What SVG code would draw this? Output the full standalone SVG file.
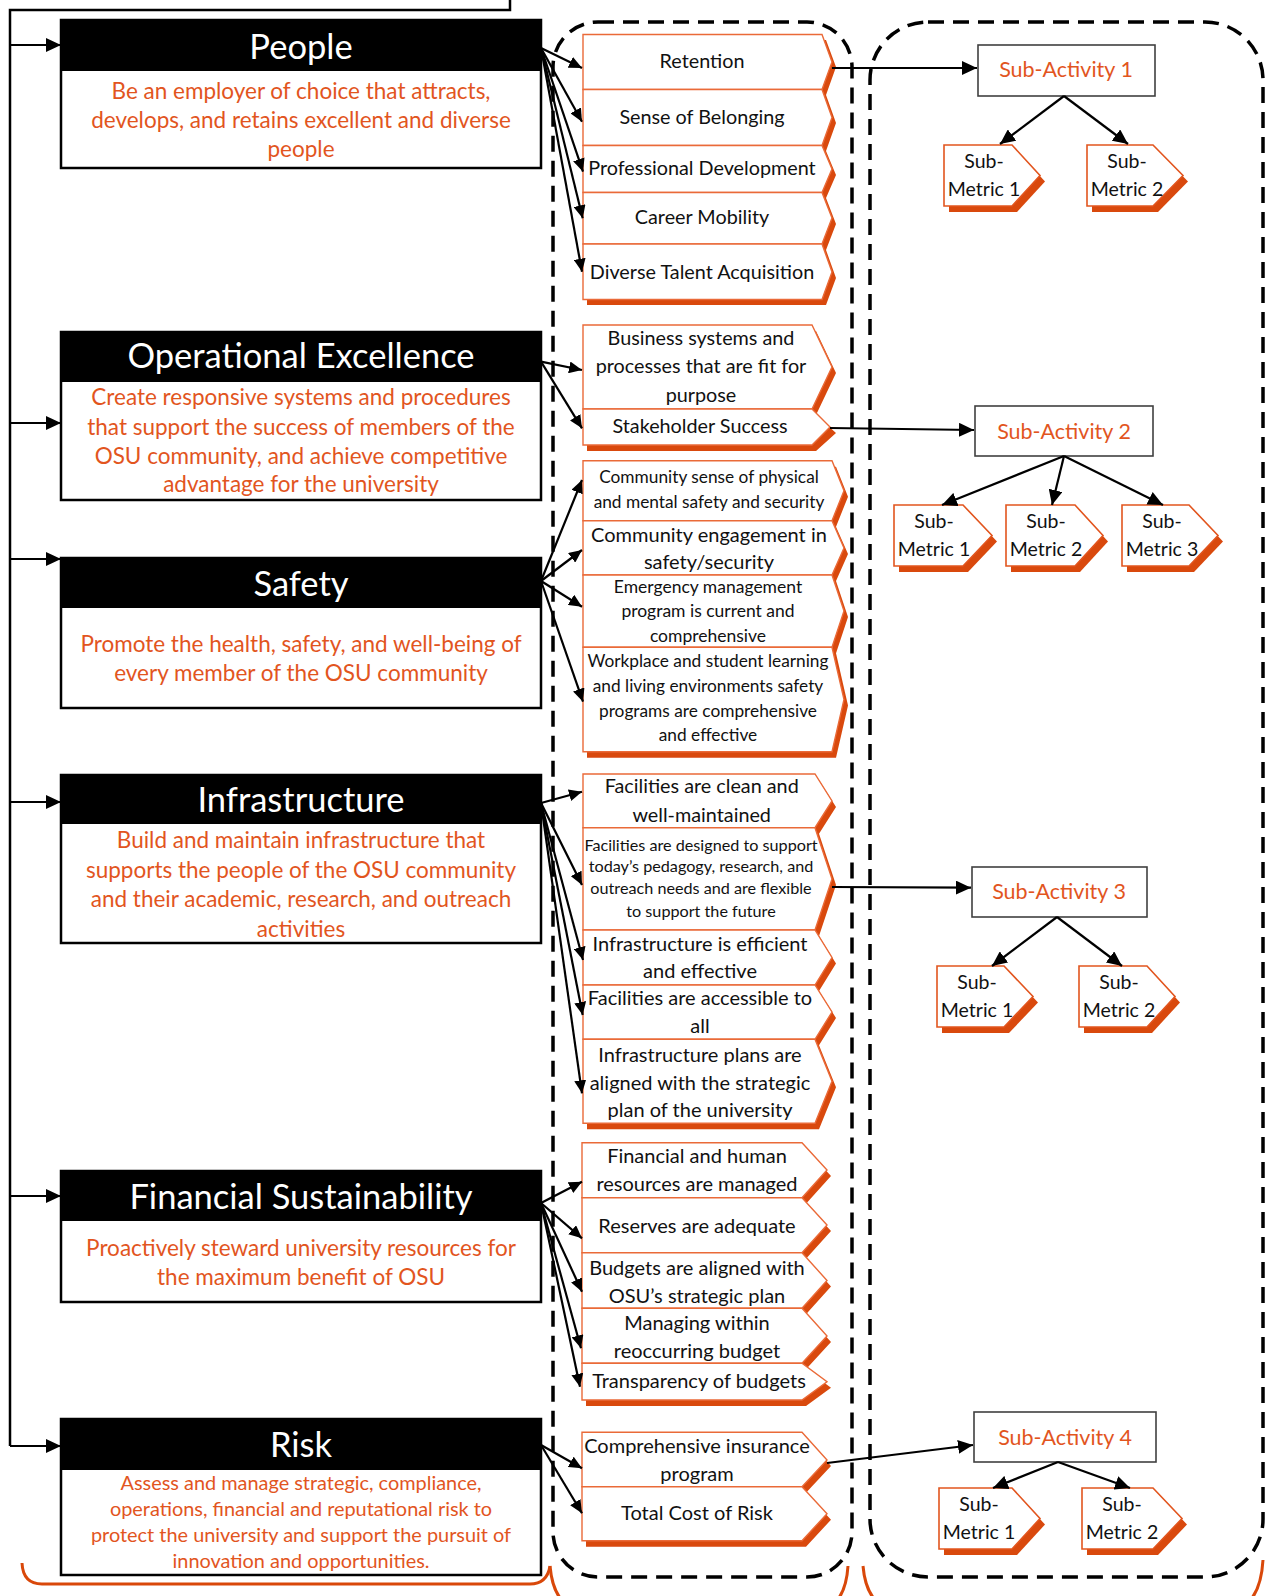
<svg xmlns="http://www.w3.org/2000/svg" width="1271" height="1596" viewBox="0 0 1271 1596">
<defs>
<marker id="ah" markerUnits="userSpaceOnUse" markerWidth="13" markerHeight="12" refX="13" refY="6" orient="auto"><path d="M0,0 L13,6 L0,12 z" fill="#000"/></marker>
<marker id="ahL" markerUnits="userSpaceOnUse" markerWidth="15" markerHeight="14" refX="15" refY="7" orient="auto"><path d="M0,0 L15,7 L0,14 z" fill="#000"/></marker>
<filter id="blur" x="-5%" y="-5%" width="110%" height="115%"><feGaussianBlur stdDeviation="0.7"/></filter>
</defs>
<style>
.hdr{fill:#000}
.body{fill:#fff;stroke:#000;stroke-width:2.5}
.title{font-family:Lato,"Open Sans",sans-serif;font-size:34.5px;fill:#fff;text-anchor:middle}
.desc{font-family:Lato,"Open Sans",sans-serif;font-size:22.5px;fill:#E2551E;text-anchor:middle}
.m{fill:#fff;stroke:#EA6A38;stroke-width:1.4}
.sh{fill:#D9480A;filter:url(#blur)}
.mt{font-family:Lato,"Open Sans",sans-serif;font-size:19.8px;fill:#111;text-anchor:middle}
.sa{fill:#fff;stroke:#404040;stroke-width:1.6}
.sat{font-family:Lato,"Open Sans",sans-serif;font-size:21.5px;fill:#E2551E;text-anchor:middle}
.sm{fill:#fff;stroke:#E2551E;stroke-width:1.6}
.smt{font-family:Lato,"Open Sans",sans-serif;font-size:19.5px;fill:#111;text-anchor:middle}
.c{fill:none;stroke:#000;stroke-width:2.2}
.dash{fill:none;stroke:#000;stroke-width:3.5;stroke-dasharray:16 9}
.br{fill:none;stroke:#D9480A;stroke-width:3}
</style>

<!-- dashed containers -->
<rect class="dash" x="553" y="22" width="299" height="1555" rx="45"/>
<rect class="dash" x="870" y="22" width="393" height="1555" rx="58"/>

<!-- orange brackets -->
<path class="br" d="M22,1563 Q23,1584 42,1584 L530,1584 Q547,1584 550,1566"/>
<path class="br" d="M550,1566 Q554,1612 590,1612 L810,1612 Q845,1612 848,1566"/>
<path class="br" d="M863,1566 Q867,1612 905,1612 L1222,1612 Q1260,1612 1263,1560"/>

<!-- left column nodes -->
<g id="people">
<rect class="body" x="61" y="20" width="480" height="148"/>
<rect class="hdr" x="61" y="20" width="480" height="51"/>
<text class="title" x="301" y="59">People</text>
<text class="desc"><tspan x="301" y="99">Be an employer of choice that attracts,</tspan><tspan x="301" y="128">develops, and retains excellent and diverse</tspan><tspan x="301" y="157">people</tspan></text>
</g>
<g id="operational-excellence">
<rect class="body" x="61" y="332" width="480" height="168"/>
<rect class="hdr" x="61" y="332" width="480" height="50"/>
<text class="title" x="301" y="368">Operational Excellence</text>
<text class="desc"><tspan x="301" y="405">Create responsive systems and procedures</tspan><tspan x="301" y="434.5">that support the success of members of the</tspan><tspan x="301" y="463.5">OSU community, and achieve competitive</tspan><tspan x="301" y="492">advantage for the university</tspan></text>
</g>
<g id="safety">
<rect class="body" x="61" y="558" width="480" height="150"/>
<rect class="hdr" x="61" y="558" width="480" height="50"/>
<text class="title" x="301" y="596">Safety</text>
<text class="desc"><tspan x="301" y="652">Promote the health, safety, and well-being of</tspan><tspan x="301" y="681">every member of the OSU community</tspan></text>
</g>
<g id="infrastructure">
<rect class="body" x="61" y="775" width="480" height="168"/>
<rect class="hdr" x="61" y="775" width="480" height="49"/>
<text class="title" x="301" y="812">Infrastructure</text>
<text class="desc"><tspan x="301" y="848">Build and maintain infrastructure that</tspan><tspan x="301" y="877.5">supports the people of the OSU community</tspan><tspan x="301" y="907">and their academic, research, and outreach</tspan><tspan x="301" y="937">activities</tspan></text>
</g>
<g id="financial-sustainability">
<rect class="body" x="61" y="1171" width="480" height="131"/>
<rect class="hdr" x="61" y="1171" width="480" height="50"/>
<text class="title" x="301" y="1209">Financial Sustainability</text>
<text class="desc"><tspan x="301" y="1256">Proactively steward university resources for</tspan><tspan x="301" y="1285">the maximum benefit of OSU</tspan></text>
</g>
<g id="risk">
<rect class="body" x="61" y="1419" width="480" height="156"/>
<rect class="hdr" x="61" y="1419" width="480" height="51"/>
<text class="title" x="301" y="1457">Risk</text>
<text class="desc" style="font-size:19.9px"><tspan x="301" y="1490">Assess and manage strategic, compliance,</tspan><tspan x="301" y="1515.5">operations, financial and reputational risk to</tspan><tspan x="301" y="1542">protect the university and support the pursuit of</tspan><tspan x="301" y="1568">innovation and opportunities.</tspan></text>
</g>

<!-- middle column metrics -->
<g id="people-metrics">
<path class="sh" d="M587,40 H826 L836,67 L826,95 H587 Z M587,95 H826 L836,123 L826,151 H587 Z M587,151 H826 L836,175 L826,198 H587 Z M587,198 H826 L836,224 L826,250 H587 Z M587,250 H826 L836,278 L826,305 H587 Z"/>
<g id="m-retention"><path class="m" d="M583,34.5 H822 L832,62 L822,89.5 H583 Z"/><text class="mt" x="702" y="67.5">Retention</text></g>
<g id="m-belonging"><path class="m" d="M583,89.5 H822 L832,117.5 L822,145.5 H583 Z"/><text class="mt" x="702" y="124">Sense of Belonging</text></g>
<g id="m-profdev"><path class="m" d="M583,145.5 H822 L832,169 L822,192.5 H583 Z"/><text class="mt" x="702" y="175">Professional Development</text></g>
<g id="m-career"><path class="m" d="M583,192.5 H822 L832,218 L822,244 H583 Z"/><text class="mt" x="702" y="224">Career Mobility</text></g>
<g id="m-diverse"><path class="m" d="M583,244 H822 L832,272 L822,299.5 H583 Z"/><text class="mt" x="702" y="279">Diverse Talent Acquisition</text></g>
</g>

<g id="opex-metrics">
<path class="sh" d="M587,331 H816 L836,373 L816,415 H587 Z M587,415 H816 L836,433 L816,451 H587 Z"/>
<g id="m-business"><path class="m" d="M583,325 H812 L832,367 L812,409 H583 Z"/><text class="mt"><tspan x="701" y="345">Business systems and</tspan><tspan x="701" y="373.3">processes that are fit for</tspan><tspan x="701" y="401.7">purpose</tspan></text></g>
<g id="m-stakeholder"><path class="m" d="M583,409 H812 L830,427 L812,445 H583 Z"/><text class="mt" x="700" y="433.3">Stakeholder Success</text></g>
</g>

<g id="safety-metrics">
<path class="sh" d="M587,466.7 H836 L848,496.7 L836,526.7 H587 Z M587,526.7 H836 L848,554 L836,581 H587 Z M587,581 H836 L848,617 L836,653.3 H587 Z M587,653.3 H836 L848,705.5 L836,757.7 H587 Z"/>
<g id="m-comm-sense"><path class="m" d="M583,460.7 H832 L844,490.7 L832,520.7 H583 Z"/><text class="mt" style="font-size:17.3px"><tspan x="709" y="483.3">Community sense of physical</tspan><tspan x="709" y="507.7">and mental safety and security</tspan></text></g>
<g id="m-comm-engage"><path class="m" d="M583,520.7 H832 L844,548 L832,575 H583 Z"/><text class="mt" style="font-size:20px"><tspan x="709" y="541.7">Community engagement in</tspan><tspan x="709" y="569.3">safety/security</tspan></text></g>
<g id="m-emergency"><path class="m" d="M583,575 H832 L844,611 L832,647.3 H583 Z"/><text class="mt" style="font-size:17.5px"><tspan x="708" y="593.3">Emergency management</tspan><tspan x="708" y="617.3">program is current and</tspan><tspan x="708" y="641.7">comprehensive</tspan></text></g>
<g id="m-workplace"><path class="m" d="M583,647.3 H832 L844,699.5 L832,751.7 H583 Z"/><text class="mt" style="font-size:17.3px"><tspan x="708" y="666.7">Workplace and student learning</tspan><tspan x="708" y="691.7">and living environments safety</tspan><tspan x="708" y="717.3">programs are comprehensive</tspan><tspan x="708" y="740.7">and effective</tspan></text></g>
</g>

<g id="infra-metrics">
<path class="sh" d="M587,780 H819 L836,807 L819,833.7 H587 Z M587,833.7 H819 L836,885 L819,936 H587 Z M587,936 H819 L836,963.5 L819,991 H587 Z M587,991 H819 L836,1018 L819,1045.3 H587 Z M587,1045.3 H819 L836,1087.3 L819,1129.3 H587 Z"/>
<g id="m-clean"><path class="m" d="M583,774 H815 L832,801 L815,827.7 H583 Z"/><text class="mt" style="font-size:19.8px"><tspan x="701.7" y="793.3">Facilities are clean and</tspan><tspan x="701.7" y="821.7">well-maintained</tspan></text></g>
<g id="m-designed"><path class="m" d="M583,827.7 H815 L832,879 L815,930 H583 Z"/><text class="mt" style="font-size:16.2px"><tspan x="701" y="850.7">Facilities are designed to support</tspan><tspan x="701" y="871.7">today’s pedagogy, research, and</tspan><tspan x="701" y="894">outreach needs and are flexible</tspan><tspan x="701" y="917.3">to support the future</tspan></text></g>
<g id="m-efficient"><path class="m" d="M583,930 H815 L832,957.5 L815,985 H583 Z"/><text class="mt" style="font-size:20px"><tspan x="700" y="950.7">Infrastructure is efficient</tspan><tspan x="700" y="978.3">and effective</tspan></text></g>
<g id="m-accessible"><path class="m" d="M583,985 H815 L832,1012 L815,1039.3 H583 Z"/><text class="mt" style="font-size:20px"><tspan x="700" y="1005">Facilities are accessible to</tspan><tspan x="700" y="1032.7">all</tspan></text></g>
<g id="m-plans"><path class="m" d="M583,1039.3 H815 L832,1081.3 L815,1123.3 H583 Z"/><text class="mt" style="font-size:20px"><tspan x="700" y="1061.7">Infrastructure plans are</tspan><tspan x="700" y="1090">aligned with the strategic</tspan><tspan x="700" y="1116.7">plan of the university</tspan></text></g>
</g>

<g id="fin-metrics">
<path class="sh" d="M586,1148.7 H806 L831,1176 L806,1203.7 H586 Z M586,1203.7 H806 L831,1231 L806,1258.7 H586 Z M586,1258.7 H806 L831,1286.5 L806,1314.3 H586 Z M586,1314.3 H806 L831,1342 L806,1369.3 H586 Z M586,1369.3 H806 L831,1387.7 L806,1406 H586 Z"/>
<g id="m-fin-human"><path class="m" d="M582,1142.7 H802 L827,1170 L802,1197.7 H582 Z"/><text class="mt" style="font-size:20px"><tspan x="697" y="1162.7">Financial and human</tspan><tspan x="697" y="1190.7">resources are managed</tspan></text></g>
<g id="m-reserves"><path class="m" d="M582,1197.7 H802 L827,1225 L802,1252.7 H582 Z"/><text class="mt" style="font-size:20px" x="697" y="1232.7">Reserves are adequate</text></g>
<g id="m-budgets"><path class="m" d="M582,1252.7 H802 L827,1280.5 L802,1308.3 H582 Z"/><text class="mt" style="font-size:20px"><tspan x="697" y="1275">Budgets are aligned with</tspan><tspan x="697" y="1302.7">OSU’s strategic plan</tspan></text></g>
<g id="m-recurring"><path class="m" d="M582,1308.3 H802 L827,1336 L802,1363.3 H582 Z"/><text class="mt" style="font-size:20px"><tspan x="697" y="1330">Managing within</tspan><tspan x="697" y="1357.7">reoccurring budget</tspan></text></g>
<g id="m-transparency"><path class="m" d="M582,1363.3 H802 L827,1381.7 L802,1400 H582 Z"/><text class="mt" style="font-size:20px" x="699" y="1388.3">Transparency of budgets</text></g>
</g>

<g id="risk-metrics">
<path class="sh" d="M586,1438.3 H806 L831,1466 L806,1492.7 H586 Z M586,1492.7 H806 L831,1519.7 L806,1546.7 H586 Z"/>
<g id="m-insurance"><path class="m" d="M582,1432.3 H802 L827,1460 L802,1486.7 H582 Z"/><text class="mt" style="font-size:20px"><tspan x="697" y="1453.3">Comprehensive insurance</tspan><tspan x="697" y="1481">program</tspan></text></g>
<g id="m-tcor"><path class="m" d="M582,1486.7 H802 L827,1513.7 L802,1540.7 H582 Z"/><text class="mt" style="font-size:20px" x="697" y="1520">Total Cost of Risk</text></g>
</g>

<!-- sub-activities -->
<g id="sub-activity-1"><rect class="sa" x="978" y="45" width="177" height="51"/><text class="sat" x="1066" y="77">Sub-Activity 1</text></g>
<g id="sub-activity-2"><rect class="sa" x="975" y="406" width="178" height="50"/><text class="sat" x="1064" y="439">Sub-Activity 2</text></g>
<g id="sub-activity-3"><rect class="sa" x="972" y="867" width="175" height="50"/><text class="sat" x="1059" y="899">Sub-Activity 3</text></g>
<g id="sub-activity-4"><rect class="sa" x="974" y="1412" width="182" height="50"/><text class="sat" x="1065" y="1445">Sub-Activity 4</text></g>

<!-- sub-metrics -->
<g id="sa1-sm1"><path class="sh" d="M949,151 H1017 L1045,181.5 L1017,212 H949 Z"/><path class="sm" d="M944,145 H1012 L1040,175.5 L1012,206 H944 Z"/><text class="smt"><tspan x="984" y="167.7">Sub-</tspan><tspan x="984" y="195.7">Metric 1</tspan></text></g>
<g id="sa1-sm2"><path class="sh" d="M1092,151 H1158 L1188,181.5 L1158,212 H1092 Z"/><path class="sm" d="M1087,145 H1153 L1183,175.5 L1153,206 H1087 Z"/><text class="smt"><tspan x="1127" y="167.7">Sub-</tspan><tspan x="1127" y="195.7">Metric 2</tspan></text></g>

<g id="sa2-sm1"><path class="sh" d="M899,511 H968 L997,541.5 L968,572 H899 Z"/><path class="sm" d="M894,505 H963 L992,535.5 L963,566 H894 Z"/><text class="smt"><tspan x="934" y="527.7">Sub-</tspan><tspan x="934" y="555.7">Metric 1</tspan></text></g>
<g id="sa2-sm2"><path class="sh" d="M1011,511 H1080 L1108,541.5 L1080,572 H1011 Z"/><path class="sm" d="M1006,505 H1075 L1103,535.5 L1075,566 H1006 Z"/><text class="smt"><tspan x="1046" y="527.7">Sub-</tspan><tspan x="1046" y="555.7">Metric 2</tspan></text></g>
<g id="sa2-sm3"><path class="sh" d="M1127,511 H1194 L1223,541.5 L1194,572 H1127 Z"/><path class="sm" d="M1122,505 H1189 L1218,535.5 L1189,566 H1122 Z"/><text class="smt"><tspan x="1162" y="527.7">Sub-</tspan><tspan x="1162" y="555.7">Metric 3</tspan></text></g>

<g id="sa3-sm1"><path class="sh" d="M942,972 H1009 L1038,1002.5 L1009,1033 H942 Z"/><path class="sm" d="M937,966 H1004 L1033,996.5 L1004,1027 H937 Z"/><text class="smt"><tspan x="977" y="988.7">Sub-</tspan><tspan x="977" y="1016.7">Metric 1</tspan></text></g>
<g id="sa3-sm2"><path class="sh" d="M1084,972 H1152 L1180,1002.5 L1152,1033 H1084 Z"/><path class="sm" d="M1079,966 H1147 L1175,996.5 L1147,1027 H1079 Z"/><text class="smt"><tspan x="1119" y="988.7">Sub-</tspan><tspan x="1119" y="1016.7">Metric 2</tspan></text></g>

<g id="sa4-sm1"><path class="sh" d="M944,1494 H1017 L1045,1524.5 L1017,1555 H944 Z"/><path class="sm" d="M939,1488 H1012 L1040,1518.5 L1012,1549 H939 Z"/><text class="smt"><tspan x="979" y="1510.7">Sub-</tspan><tspan x="979" y="1538.7">Metric 1</tspan></text></g>
<g id="sa4-sm2"><path class="sh" d="M1087,1494 H1158 L1187,1524.5 L1158,1555 H1087 Z"/><path class="sm" d="M1082,1488 H1153 L1182,1518.5 L1153,1549 H1082 Z"/><text class="smt"><tspan x="1122" y="1510.7">Sub-</tspan><tspan x="1122" y="1538.7">Metric 2</tspan></text></g>

<!-- connectors -->
<g id="connectors">
<path class="c" d="M510,0 V10 H10 V1446" style="stroke-width:2.5"/>
<path class="c" d="M10,45 H61" marker-end="url(#ahL)"/>
<path class="c" d="M10,423 H61" marker-end="url(#ahL)"/>
<path class="c" d="M10,559 H61" marker-end="url(#ahL)"/>
<path class="c" d="M10,802 H61" marker-end="url(#ahL)"/>
<path class="c" d="M10,1196 H61" marker-end="url(#ahL)"/>
<path class="c" d="M10,1446 H61" marker-end="url(#ahL)"/>

<path class="c" d="M541,48 L582,68" marker-end="url(#ah)"/>
<path class="c" d="M541,48 L582,121.7" marker-end="url(#ah)"/>
<path class="c" d="M541,48 L583,171.7" marker-end="url(#ah)"/>
<path class="c" d="M541,48 L582.7,218.3" marker-end="url(#ah)"/>
<path class="c" d="M541,48 L582,271.7" marker-end="url(#ah)"/>

<path class="c" d="M541,361.7 L582,370" marker-end="url(#ah)"/>
<path class="c" d="M541,361.7 L582,428.3" marker-end="url(#ah)"/>

<path class="c" d="M541,581 L582,480" marker-end="url(#ah)"/>
<path class="c" d="M541,581 L582,550" marker-end="url(#ah)"/>
<path class="c" d="M541,581 L582,606.7" marker-end="url(#ah)"/>
<path class="c" d="M541,581 L583,701.7" marker-end="url(#ah)"/>

<path class="c" d="M541,803 L582,791.7" marker-end="url(#ah)"/>
<path class="c" d="M541,803 L582,885" marker-end="url(#ah)"/>
<path class="c" d="M541,803 L583,960" marker-end="url(#ah)"/>
<path class="c" d="M541,803 L582.7,1015" marker-end="url(#ah)"/>
<path class="c" d="M541,803 L582,1093.3" marker-end="url(#ah)"/>

<path class="c" d="M541,1203 L582,1181.7" marker-end="url(#ah)"/>
<path class="c" d="M541,1203 L582,1238.3" marker-end="url(#ah)"/>
<path class="c" d="M541,1203 L582,1291.7" marker-end="url(#ah)"/>
<path class="c" d="M541,1203 L581,1348.3" marker-end="url(#ah)"/>
<path class="c" d="M541,1203 L580,1386.7" marker-end="url(#ah)"/>

<path class="c" d="M541,1445 L582,1468.3" marker-end="url(#ah)"/>
<path class="c" d="M541,1445 L582,1513.3" marker-end="url(#ah)"/>

<path class="c" d="M832,68 H977" marker-end="url(#ahL)"/>
<path class="c" d="M830,428 L974,430" marker-end="url(#ahL)"/>
<path class="c" d="M832,887 L971,887.7" marker-end="url(#ahL)"/>
<path class="c" d="M827,1463 L973,1445" marker-end="url(#ahL)"/>

<path class="c" d="M1064,96 L1000,144" marker-end="url(#ahL)"/>
<path class="c" d="M1064,96 L1128,144" marker-end="url(#ahL)"/>
<path class="c" d="M1064,456 L942,505" marker-end="url(#ahL)"/>
<path class="c" d="M1064,456 L1052,505" marker-end="url(#ahL)"/>
<path class="c" d="M1064,456 L1163,505" marker-end="url(#ahL)"/>
<path class="c" d="M1057,917 L992,966" marker-end="url(#ahL)"/>
<path class="c" d="M1057,917 L1122,966" marker-end="url(#ahL)"/>
<path class="c" d="M1058,1462 L993,1488" marker-end="url(#ahL)"/>
<path class="c" d="M1058,1462 L1130,1488" marker-end="url(#ahL)"/>
</g>
</svg>
